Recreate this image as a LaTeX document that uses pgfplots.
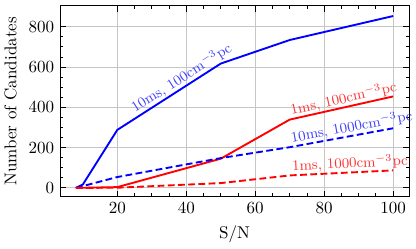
\documentclass[border=0pt]{standalone}
\usepackage{pgfplots}
\pgfplotsset{compat=1.18}
\begin{document}
\begin{tikzpicture}
\begin{axis}[
  name=ax,
  width=205pt, height=112pt, scale only axis,
  xmin=3.4, xmax=104.6, ymin=-43, ymax=903,
  xtick={20,40,60,80,100}, ytick={0,200,400,600,800},
  minor x tick num=3, minor y tick num=3,
  tick align=inside,
  xtick pos=both, ytick pos=both,
  major tick length=3.5pt, minor tick length=2pt,
  every tick/.style={black, line width=0.5pt},
  grid=major, major grid style={gray!45, line width=0.5pt},
  axis line style={line width=0.6pt},
  xlabel={S/N}, ylabel={Number of Candidates},
  every axis plot/.append style={line width=1.1pt},
  clip=false,
]
\addplot[blue, solid] coordinates {(8,0) (10,17) (20,288) (50,617) (70,734) (100,853)};
\addplot[red, solid] coordinates {(8,0) (20,4) (50,145) (70,339) (100,454)};
\addplot[blue, dash pattern=on 4pt off 2pt] coordinates {(8,0) (20,54) (50,148) (70,202) (100,296)};
\addplot[red, dash pattern=on 4pt off 2pt] coordinates {(8,0) (20,1) (50,24) (70,62) (100,87)};
\node[anchor=south west, rotate=32.6, inner sep=0.5pt, text=blue!75, font=\fontsize{8.5}{10}\selectfont] at (axis cs:25.5,352) {10ms, 100cm$^{-3}$pc};
\node[anchor=south west, rotate=12.6, inner sep=0.5pt, text=red!80, font=\fontsize{8.5}{10}\selectfont] at (axis cs:70.5,342) {1ms, 100cm$^{-3}$pc};
\node[anchor=south west, rotate=10.4, inner sep=0.5pt, text=blue!75, font=\fontsize{8.5}{10}\selectfont] at (axis cs:70.5,205) {10ms, 1000cm$^{-3}$pc};
\node[anchor=south west, rotate=2.8, inner sep=0.5pt, text=red!80, font=\fontsize{8.5}{10}\selectfont] at (axis cs:70.5,66) {1ms, 1000cm$^{-3}$pc};
\end{axis}
\pgfresetboundingbox
\path ([shift={(-35.3pt,-30.6pt)}]ax.south west) rectangle ([shift={(4.1pt,3.5pt)}]ax.north east);
\end{tikzpicture}
\end{document}
